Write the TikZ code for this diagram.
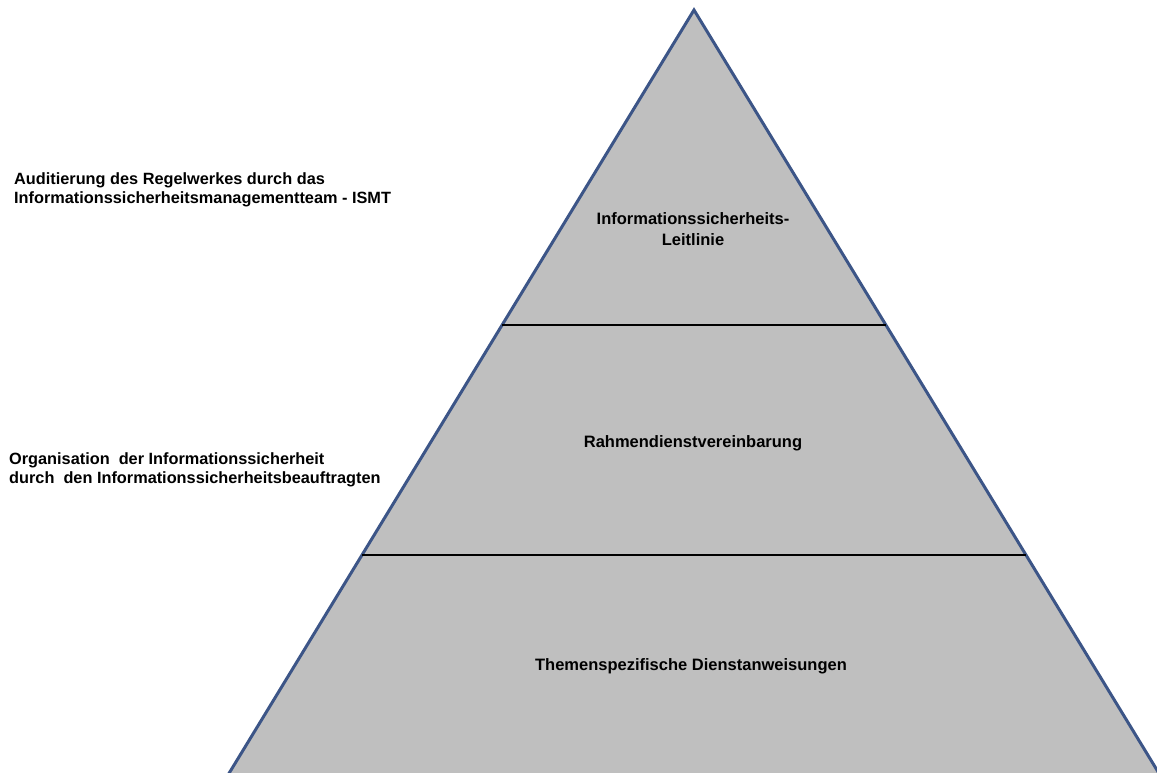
\documentclass[tikz,border=0pt]{standalone}
\usepackage{fontspec}
\setmainfont{Liberation Sans}
\usetikzlibrary{calc}
\definecolor{pyrfill}{RGB}{191,191,191}
\definecolor{pyredge}{RGB}{60,85,135}
\tikzset{
  sidelabel/.style={anchor=west, align=left, font=\fontsize{16.3}{18.5}\selectfont\bfseries, inner sep=0pt},
  levellabel/.style={align=center, font=\fontsize{16.5}{21}\selectfont\bfseries, inner sep=0pt},
  divider/.style={black, line width=1.3pt}
}
\begin{document}
\begin{tikzpicture}[x=1pt, y=-1pt]
\useasboundingbox (0,0) rectangle (1157,773);
% Pyramid
\coordinate (apex) at (694,10);
\coordinate (bl) at (228,775);
\coordinate (br) at (1160,775);
\filldraw[fill=pyrfill, draw=pyredge, line width=3pt, line join=miter] (apex) -- (bl) -- (br) -- cycle;

% Dividers
\coordinate (d1l) at ($(apex)!0.4118!(bl)$);
\coordinate (d1r) at ($(apex)!0.4118!(br)$);
\coordinate (d2l) at ($(apex)!0.7124!(bl)$);
\coordinate (d2r) at ($(apex)!0.7124!(br)$);
\draw[divider] (d1l) -- (d1r);
\draw[divider] (d2l) -- (d2r);

% Labels
\node[levellabel] (leitlinie) at (693,229) {Informationssicherheits-\\Leitlinie};
\node[levellabel] (rahmen) at (693,443) {Rahmendienstvereinbarung};
\node[levellabel] (themen) at (691,666) {Themenspezifische Dienstanweisungen};
\node[sidelabel] (ismt) at (14,190) {Auditierung des Regelwerkes durch das\\Informationssicherheitsmanagementteam - ISMT};
\node[sidelabel] (isb) at (9,470) {Organisation~ der Informationssicherheit\\durch~ den Informationssicherheitsbeauftragten};
\end{tikzpicture}
\end{document}
